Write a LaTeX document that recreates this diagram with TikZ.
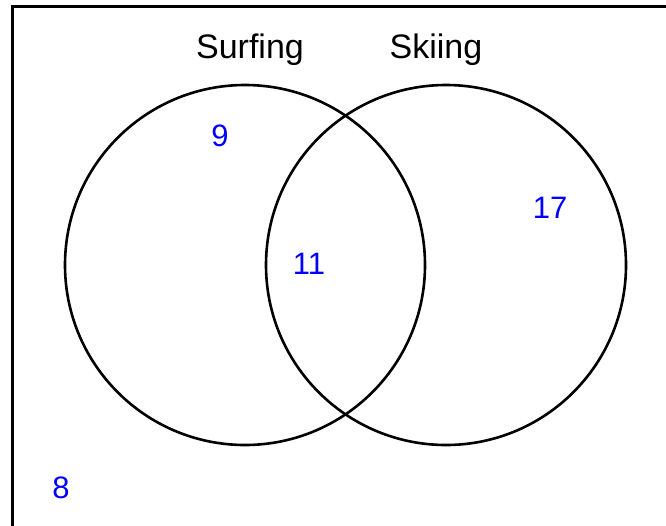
\documentclass[tikz,border=0pt]{standalone}
\usepackage{fontspec}
\setmainfont{Liberation Sans}
\usepackage{tikz}
\newcommand{\setlbl}{\fontsize{34}{38}\selectfont}
\newcommand{\setnum}{\fontsize{31}{34}\selectfont}

\begin{document}
\begin{tikzpicture}[x=1pt,y=-1pt,
  setname/.style={anchor=base,inner sep=0pt,font=\setlbl},
  count/.style={inner sep=0pt,text=blue,font=\setnum}]
\useasboundingbox (0,0) rectangle (666,525);
\clip (0,0) rectangle (666,525);
\draw[line width=3pt] (12,6.5) rectangle (690,560);
\draw[line width=2.6pt] (245,265) circle (180);
\draw[line width=2.6pt] (446,265) circle (180);
\node[setname] (surf) at (250,58) {Surfing};
\node[setname] (ski) at (436,58) {Skiing};
\node[count] (onlysurf) at (220,136) {9};
\node[count] (both) at (309,264) {11};
\node[count] (onlyski) at (550,208) {17};
\node[count] (neither) at (61,488) {8};
\end{tikzpicture}
\end{document}
